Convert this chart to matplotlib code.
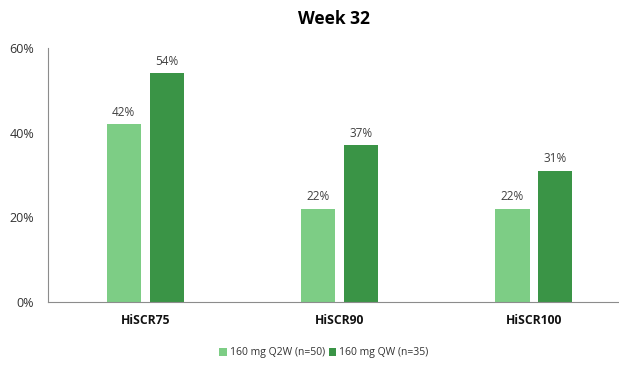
import numpy as np
import matplotlib.pyplot as plt

plt.rcParams['font.family'] = ['Open Sans', 'DejaVu Sans']

categories = ['HiSCR75', 'HiSCR90', 'HiSCR100']
q2w = [42, 22, 22]
qw = [54, 37, 31]
series_names = ['160 mg Q2W (n=50)', '160 mg QW (n=35)']
yticks = [0, 20, 40, 60]

light = '#7dcd85'
dark = '#3a9446'

fig = plt.figure(figsize=(6.19, 3.70), dpi=100)
ax = fig.add_axes([48 / 619, 68 / 370, 571 / 619, 254 / 370])

x = np.arange(len(categories))
w = 0.175
off = 0.11
b1 = ax.bar(x - off, q2w, w, color=light, label=series_names[0])
b2 = ax.bar(x + off, qw, w, color=dark, label=series_names[1])

# percentage labels above each bar
for bars, vals in [(b1, q2w), (b2, qw)]:
    for b, v in zip(bars, vals):
        ax.text(b.get_x() + b.get_width() / 2, v + 1.3, f'{v}%',
                ha='center', va='bottom', fontsize=8.5, color='#404040')

ax.set_xlim(-0.5, 2.438)
ax.set_ylim(0, 60)
ax.set_yticks(yticks)
ax.set_yticklabels([f'{t}%' for t in yticks], fontsize=9, color='#333333')
ax.set_xticks(x)
ax.set_xticklabels(categories, fontsize=8.7, fontweight='bold', color='#111111')
ax.tick_params(axis='both', length=0)
ax.tick_params(axis='y', pad=10)
ax.tick_params(axis='x', pad=9)

for s in ['top', 'right']:
    ax.spines[s].set_visible(False)
ax.spines['left'].set_color('#8c8c8c')
ax.spines['bottom'].set_color('#8c8c8c')

ax.set_title('Week 32', fontsize=12.5, fontweight='bold', pad=17)

fig.legend(handles=[b1, b2], loc='center', bbox_to_anchor=(324 / 619, 1 - 353 / 370),
           ncol=2, frameon=False, fontsize=7.5, handlelength=0.7, handleheight=0.7,
           handletextpad=0.3, columnspacing=0.4, labelcolor='#333333')

fig.savefig('out.png', dpi=100)
